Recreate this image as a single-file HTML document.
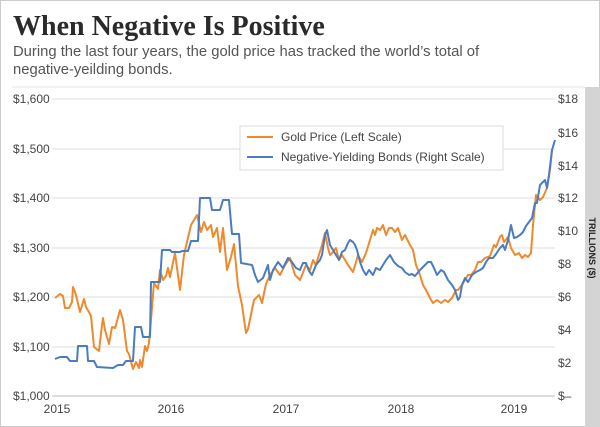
<!DOCTYPE html>
<html><head><meta charset="utf-8"><style>
body{margin:0;background:#fff;}
svg{display:block;font-family:"Liberation Sans",sans-serif;}
</style></head><body>
<svg width="600" height="427" viewBox="0 0 600 427">
<rect x="0.5" y="0.5" width="599" height="426" fill="#fff" stroke="#ccc"/>
<text x="13" y="35" font-family="Liberation Serif,serif" font-weight="bold" font-size="28" fill="#2a2a2a">When Negative Is Positive</text>
<text x="13" y="56" font-size="14.8" fill="#555">During the last four years, the gold price has tracked the world’s total of</text>
<text x="13" y="74" font-size="14.8" fill="#555">negative-yeilding bonds.</text>
<line x1="12" y1="87" x2="585" y2="87" stroke="#e6e6e6"/>
<rect x="585" y="87" width="15" height="340" fill="#d4d4d4"/>
<text transform="translate(589,248) rotate(90)" font-size="9" font-weight="bold" fill="#222" text-anchor="middle">TRILLIONS ($)</text>
<g stroke="#dcdcdc" stroke-width="1">
<line x1="52" y1="99" x2="555" y2="99"/><line x1="52" y1="149" x2="555" y2="149"/>
<line x1="52" y1="198" x2="555" y2="198"/><line x1="52" y1="248" x2="555" y2="248"/>
<line x1="52" y1="297" x2="555" y2="297"/><line x1="52" y1="347" x2="555" y2="347"/>
<line x1="52" y1="396" x2="555" y2="396" stroke="#bbb"/>
</g>
<g font-size="12" fill="#444">
<text x="13" y="103">$1,600</text><text x="13" y="153">$1,500</text><text x="13" y="202">$1,400</text>
<text x="13" y="252">$1,300</text><text x="13" y="301">$1,200</text><text x="13" y="351">$1,100</text><text x="13" y="400">$1,000</text>
<text x="558" y="103">$18</text><text x="558" y="137">$16</text><text x="558" y="170">$14</text>
<text x="558" y="202">$12</text><text x="558" y="235">$10</text><text x="558" y="268">$8</text>
<text x="558" y="301">$6</text><text x="558" y="334">$4</text><text x="558" y="367">$2</text><text x="558" y="400">$–</text>
<g text-anchor="middle"><text x="57" y="413">2015</text><text x="171" y="413">2016</text><text x="286" y="413">2017</text><text x="401" y="413">2018</text><text x="514" y="413">2019</text></g>
</g>
<polyline fill="none" stroke="#ee8a2d" stroke-width="2" stroke-linejoin="round" points="55,298 60,294 63,296 65,308 69,308 72,302 73,287 76,295 80,312 84,299 86,307 89,312 91,316 94,347 99,351 102,325 103,318 105,330 109,344 112,327 115,328 116,325 120,310 123,320 127,351 129,354 133,369 136,362 139,368 140,360 142,367 145,346 147,351 149,343 151,320 154,283 158,289 160,270 163,280 166,276 168,268 170,277 175,253 180,290 184,255 191,225 197,215 201,232 204,222 207,230 211,225 213,237 217,228 220,252 223,228 227,270 231,257 234,244 238,286 242,305 246,333 248,329 254,300 259,295 262,303 266,284 270,275 275,268 280,275 285,265 290,258 295,275 300,280 304,270 306,265 310,270 313,260 316,265 318,258 322,245 325,233 328,248 330,255 333,252 336,248 339,260 342,255 345,260 348,265 353,272 356,262 358,255 362,262 366,253 370,240 373,230 375,235 377,228 380,230 383,225 386,235 389,228 392,228 395,232 398,228 402,240 405,235 410,245 413,250 416,265 420,275 423,285 426,290 430,298 433,303 437,300 441,303 445,300 448,302 452,298 456,290 458,290 462,285 465,280 468,275 471,275 475,270 478,262 481,262 485,258 490,256 494,245 496,247 500,237 502,235 504,242 508,237 511,248 515,255 519,253 522,258 525,255 528,257 531,253 533,225 536,195 540,200 543,197 547,188 550,170 552,150"/>
<polyline fill="none" stroke="#4a7cc2" stroke-width="2" stroke-linejoin="round" points="55,359 60,357 67,357 70,361 77,361 78,346 87,346 88,361 94,361 97,367 113,368 118,365 123,365 126,361 133,361 135,327 141,327 143,337 150,337 151,282 160,282 162,250 170,250 172,252 180,252 182,251 188,251 191,241 198,241 200,198 210,198 212,210 220,210 223,200 229,200 232,234 239,234 241,263 252,265 255,275 258,282 263,278 268,265 270,280 273,270 278,262 283,268 288,258 292,262 296,268 300,270 303,263 306,263 309,271 312,275 316,265 320,260 322,255 325,235 327,230 330,245 333,250 336,255 339,260 342,252 345,250 348,243 350,240 353,242 355,245 357,250 360,262 363,270 366,275 369,270 373,275 376,268 380,270 383,265 386,260 390,255 394,262 398,266 402,268 405,272 409,275 412,274 415,276 420,270 425,265 428,262 431,262 434,268 437,275 441,270 444,272 448,280 452,285 455,290 458,300 460,297 462,285 465,278 468,282 472,275 476,272 480,270 483,268 486,262 489,258 493,258 496,254 500,248 503,245 505,250 508,240 511,225 514,238 517,237 520,235 523,232 526,226 529,222 532,218 535,203 537,203 540,185 542,183 545,180 547,188 549,175 552,150 555,140"/>
<rect x="240" y="126" width="263" height="44" fill="#fff" stroke="#ddd"/>
<line x1="247" y1="137" x2="273" y2="137" stroke="#ee8a2d" stroke-width="2"/>
<line x1="247" y1="157" x2="273" y2="157" stroke="#4a7cc2" stroke-width="2"/>
<text x="281" y="141" font-size="12" fill="#444">Gold Price (Left Scale)</text>
<text x="281" y="161" font-size="12" fill="#444">Negative-Yielding Bonds (Right Scale)</text>
</svg>
</body></html>
